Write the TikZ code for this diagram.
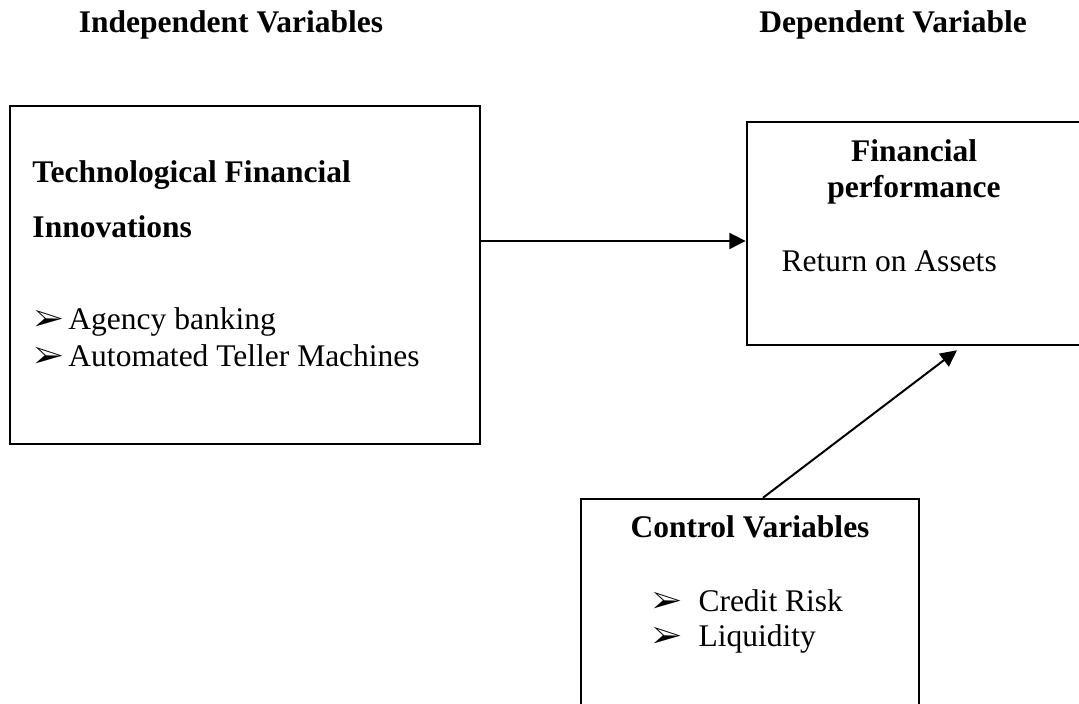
\documentclass[tikz,border=0pt]{standalone}
\usepackage{fontspec}
\setmainfont{Liberation Serif}
\usepackage{pifont}
\usetikzlibrary{arrows.meta,positioning}
\tikzset{
  frame/.style={draw, line width=1pt, inner sep=0pt},
  head/.style={font=\fontsize{12.6}{15}\selectfont\bfseries, inner sep=0pt, anchor=base},
  txt/.style={font=\fontsize{12.6}{15}\selectfont, inner sep=0pt, anchor=base west},
  arrow/.style={-{Triangle[length=6.6pt,width=6.4pt]}, line width=0.8pt}
}
\newcommand{\bul}{\ding{226}}

\begin{document}
\begin{tikzpicture}[x=0.4pt, y=-0.4pt]
  \useasboundingbox (0,0) rectangle (1079,704);
  \clip (0,0) rectangle (1079,704);

  \node[head] (ivh) at (231,33) {Independent Variables};
  \node[head] (dvh) at (893,33) {Dependent Variable};

  \node[frame, minimum width=188pt, minimum height=135.2pt] (tfi) at (245,275) {};
  \node[frame, minimum width=141.2pt, minimum height=89.2pt] (fp) at (923.5,233.5) {};
  \node[frame, minimum width=135.2pt, minimum height=88.4pt] (ctrl) at (750,609.5) {};

  \node[txt] (tfi1) at (32,183) {\textbf{Technological Financial}};
  \node[txt] (tfi2) at (32,238) {\textbf{Innovations}};
  \node[txt] (ab) at (34,330) {\makebox[13.6pt][l]{\bul}Agency banking};
  \node[txt] (atm) at (34,367) {\makebox[13.6pt][l]{\bul}Automated Teller Machines};

  \node[head] (fp1) at (914,162) {Financial};
  \node[head] (fp2) at (914,198) {performance};
  \node[txt] (roa) at (781,272) {Return on Assets};

  \node[head] (cvh) at (750,538) {Control Variables};
  \node[txt] (cr) at (652,612) {\makebox[18.4pt][l]{\bul}Credit Risk};
  \node[txt] (liq) at (652,647) {\makebox[18.4pt][l]{\bul}Liquidity};

  \coordinate (mid) at (600,241);
  \draw[arrow] (tfi.east |- mid) -- (fp.west |- mid);
  \draw[arrow] ([xshift=5.2pt]ctrl.north) -- ([xshift=13.4pt, yshift=-1.6pt]fp.south);
\end{tikzpicture}
\end{document}
